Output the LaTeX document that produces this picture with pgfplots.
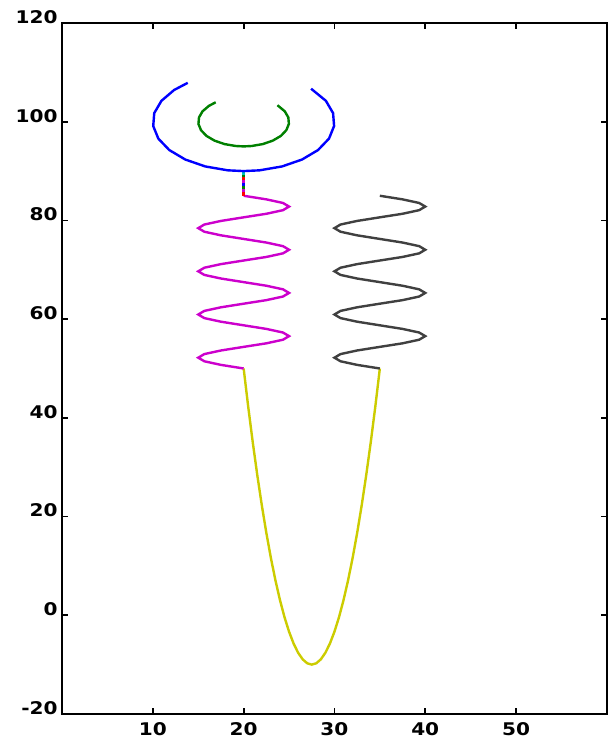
\documentclass[border=0pt]{standalone}
\usepackage{fontspec}
\usepackage{pgfplots}
\pgfplotsset{compat=1.18}
\newfontfamily\tickfont{DejaVu Sans Bold}[FakeStretch=1.15]
\definecolor{mmag}{RGB}{204,0,204}
\definecolor{myel}{RGB}{204,204,0}
\definecolor{mgray}{RGB}{64,64,64}
\definecolor{mblue}{RGB}{0,0,255}
\definecolor{mgreen}{RGB}{0,128,0}
\definecolor{mcyan}{RGB}{0,190,190}
\begin{document}
\begin{tikzpicture}
\begin{axis}[name=ax,
  scale only axis, width=544bp, height=690bp,
  xmin=0, xmax=60, ymin=-20, ymax=120,
  xtick={10,20,30,40,50}, ytick={-20,0,20,40,60,80,100,120},
  tick align=inside, major tick length=6bp,
  every tick/.style={black, line width=1.8bp},
  axis line style={line width=1.8bp},
  ticklabel style={font=\tickfont\fontsize{17.5}{17.5}\selectfont},
  /pgf/number format/assume math mode=true,
  yticklabel style={yshift=6bp, xshift=-1bp},
  xticklabel style={yshift=-5bp},
  clip=false,
  every axis plot post/.append style={line width=2.4bp, line join=miter},
]
% yellow parabola
\addplot[myel] coordinates {
(20,50) (20.5,42.27) (21,35.07) (21.5,28.4) (22,22.27) (22.5,16.67) (23,11.6) (23.5,7.07) (24,3.07) (24.5,-0.4) (25,-3.33) (25.5,-5.73) (26,-7.6) (26.5,-8.93) (27,-9.73) (27.5,-10)
(28,-9.73) (28.5,-8.93) (29,-7.6) (29.5,-5.73) (30,-3.33) (30.5,-0.4) (31,3.07) (31.5,7.07) (32,11.6) (32.5,16.67) (33,22.27) (33.5,28.4) (34,35.07) (34.5,42.27) (35,50)};
% magenta stem
\addplot[mmag] coordinates {
(20,50) (17.5,50.73) (15.67,51.46) (15,52.19) (15.67,52.92) (17.5,53.65) (20,54.38) (22.5,55.10) (24.33,55.83) (25,56.56) (24.33,57.29) (22.5,58.02)
(20,58.75) (17.5,59.48) (15.67,60.21) (15,60.94) (15.67,61.67) (17.5,62.40) (20,63.13) (22.5,63.85) (24.33,64.58) (25,65.31) (24.33,66.04) (22.5,66.77)
(20,67.50) (17.5,68.23) (15.67,68.96) (15,69.69) (15.67,70.42) (17.5,71.15) (20,71.88) (22.5,72.60) (24.33,73.33) (25,74.06) (24.33,74.79) (22.5,75.52)
(20,76.25) (17.5,76.98) (15.67,77.71) (15,78.44) (15.67,79.17) (17.5,79.90) (20,80.63) (22.5,81.35) (24.33,82.08) (25,82.81) (24.33,83.54) (22.5,84.27) (20,85)};
% gray stem
\addplot[mgray] coordinates {
(35,50) (32.5,50.73) (30.67,51.46) (30,52.19) (30.67,52.92) (32.5,53.65) (35,54.38) (37.5,55.10) (39.33,55.83) (40,56.56) (39.33,57.29) (37.5,58.02)
(35,58.75) (32.5,59.48) (30.67,60.21) (30,60.94) (30.67,61.67) (32.5,62.40) (35,63.13) (37.5,63.85) (39.33,64.58) (40,65.31) (39.33,66.04) (37.5,66.77)
(35,67.50) (32.5,68.23) (30.67,68.96) (30,69.69) (30.67,70.42) (32.5,71.15) (35,71.88) (37.5,72.60) (39.33,73.33) (40,74.06) (39.33,74.79) (37.5,75.52)
(35,76.25) (32.5,76.98) (30.67,77.71) (30,78.44) (30.67,79.17) (32.5,79.90) (35,80.63) (37.5,81.35) (39.33,82.08) (40,82.81) (39.33,83.54) (37.5,84.27) (35,85)};
% multicolour short stem
\addplot[red] coordinates {(20,85) (20,85.7)};
\addplot[mmag] coordinates {(20,85.7) (20,86.3)};
\addplot[mgreen] coordinates {(20,86.3) (20,86.9)};
\addplot[mblue] coordinates {(20,86.9) (20,87.5)};
\addplot[mmag] coordinates {(20,87.5) (20,88.1)};
\addplot[red] coordinates {(20,88.1) (20,88.7)};
\addplot[mgreen] coordinates {(20,88.7) (20,89.3)};
\addplot[mcyan] coordinates {(20,89.3) (20,90)};
% blue arc
\addplot[mblue] coordinates {
(13.84,107.88) (12.34,106.43) (10.94,104.23) (10.15,101.74) (10.04,99.13) (10.60,96.58) (11.81,94.26) (13.57,92.34) (15.77,90.94) (18.26,90.15) (20,90)
(21.74,90.15) (24.23,90.94) (26.43,92.34) (28.19,94.26) (29.40,96.58) (29.96,99.13) (29.85,101.74) (29.06,104.23) (27.43,106.69)};
% green arc
\addplot[mgreen] coordinates {
(16.92,103.94) (16.17,103.21) (15.47,102.11) (15.08,100.87) (15.02,99.56) (15.30,98.29) (15.90,97.13) (16.79,96.17) (17.89,95.47) (19.13,95.08) (20,95)
(20.87,95.08) (22.11,95.47) (23.21,96.17) (24.10,97.13) (24.70,98.29) (24.98,99.56) (24.92,100.87) (24.53,102.11) (23.72,103.35)};
\end{axis}
\pgfresetboundingbox
\path ([shift={(-62bp,-28bp)}]ax.south west) rectangle ([shift={(1bp,23bp)}]ax.north east);
\end{tikzpicture}
\end{document}
